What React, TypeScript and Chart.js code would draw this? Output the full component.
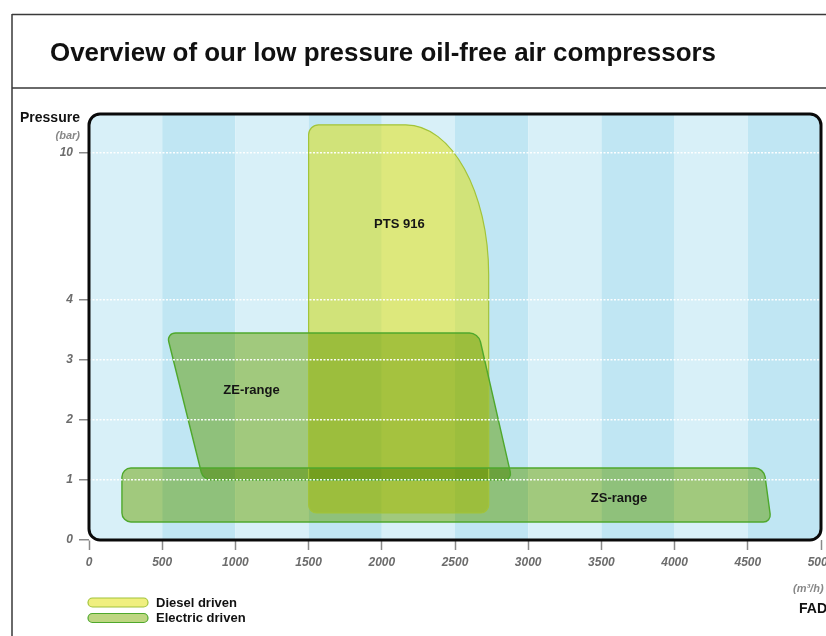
import React, { useEffect, useRef } from "react";
import { Chart, registerables } from "chart.js";
Chart.register(...registerables);

const W = 826;
const H = 636;
const FONT = '"Liberation Sans", Arial, Helvetica, sans-serif';

// ---- data ----
const title = "Overview of our low pressure oil-free air compressors";
const yTitle = "Pressure";
const yUnit = "(bar)";
const xUnit = "(m\u00b3/h)";
const xTitle = "FAD";
const xMin = 0;
const xMax = 5000;
const xStep = 500;
const yTicks = [0, 1, 2, 3, 4, 10];

const driveTypes = ["Diesel driven", "Electric driven"];
const driveFill = ["rgba(226,224,0,0.5)", "#bed681"];
const driveBlend = ["source-over", "multiply"];
const driveBorder = ["#a2c43a", "#4fa82c"];

const rangeNames = ["PTS 916", "ZE-range", "ZS-range"];
const rangeDrive = [0, 1, 1];
const ptsFlow = [1500, 1500, 2730, 2730];
const ptsPressure = [0.45, 11.15, 11.15, 0.45];
const zeFlow = [780, 530, 2660, 2890];
const zePressure = [1.0, 3.45, 3.45, 1.0];
const zsFlow = [225, 225, 4610, 4660];
const zsPressure = [0.3, 1.2, 1.2, 0.3];
const labelFlow = [2120, 1110, 3620];
const labelPressure = [7.1, 2.5, 0.7];

// pressure axis: linear up to 4 bar, compressed above
const toAxis = (p: number) => (p <= 4 ? p : 4 + ((p - 4) * 2.45) / 6);

// ---- styles ----
const cornerRadii: [number, number][][] = [
  [[8, 8], [10, 10], [83, 150], [8, 8]],
  [[8, 8], [9, 9], [9, 9], [8, 8]],
  [[9, 9], [9, 9], [9, 9], [8, 8]],
];

function roundedPoly(ctx: CanvasRenderingContext2D, pts: { x: number; y: number }[], radii: [number, number][]) {
  const n = pts.length;
  const K = 0.5523;
  ctx.beginPath();
  for (let i = 0; i < n; i++) {
    const v = pts[i];
    const p = pts[(i - 1 + n) % n];
    const q = pts[(i + 1) % n];
    const [rIn, rOut] = radii[i];
    const dinx = p.x - v.x, diny = p.y - v.y, lin = Math.hypot(dinx, diny);
    const doutx = q.x - v.x, douty = q.y - v.y, lout = Math.hypot(doutx, douty);
    const a = { x: v.x + (dinx / lin) * rIn, y: v.y + (diny / lin) * rIn };
    const b = { x: v.x + (doutx / lout) * rOut, y: v.y + (douty / lout) * rOut };
    if (i === 0) ctx.moveTo(a.x, a.y);
    else ctx.lineTo(a.x, a.y);
    ctx.bezierCurveTo(
      a.x + (v.x - a.x) * K, a.y + (v.y - a.y) * K,
      b.x + (v.x - b.x) * K, b.y + (v.y - b.y) * K,
      b.x, b.y
    );
  }
  ctx.closePath();
}

const FRAME_R = 11;

const scenePlugin = {
  id: "scene",
  beforeDraw(chart: any) {
    const ctx: CanvasRenderingContext2D = chart.ctx;
    const area = chart.chartArea;
    const xs = chart.scales.x;
    ctx.save();
    ctx.fillStyle = "#ffffff";
    ctx.fillRect(0, 0, W, H);

    // page frame
    ctx.strokeStyle = "#3a3a3a";
    ctx.lineWidth = 1.5;
    ctx.beginPath();
    ctx.moveTo(12, 14.5);
    ctx.lineTo(W, 14.5);
    ctx.moveTo(12, 88);
    ctx.lineTo(W, 88);
    ctx.moveTo(12, 14);
    ctx.lineTo(12, H);
    ctx.stroke();

    // title
    ctx.fillStyle = "#111";
    ctx.font = `bold 25px ${FONT}`;
    ctx.textAlign = "left";
    ctx.textBaseline = "alphabetic";
    const tw = ctx.measureText(title).width;
    ctx.save();
    ctx.translate(50, 61);
    ctx.scale(666 / tw, 1);
    ctx.fillText(title, 0, 0);
    ctx.restore();

    // axis titles
    ctx.font = `bold 14px ${FONT}`;
    ctx.fillStyle = "#111";
    ctx.fillText(yTitle, 20, 122);
    ctx.font = `italic bold 11px ${FONT}`;
    ctx.fillStyle = "#888";
    ctx.textAlign = "right";
    ctx.fillText(yUnit, 80, 139);
    ctx.textAlign = "left";
    ctx.font = `italic bold 11px ${FONT}`;
    ctx.fillText(xUnit, 793, 592);
    ctx.font = `bold 14px ${FONT}`;
    ctx.fillStyle = "#111";
    ctx.fillText(xTitle, 799, 613);

    // legend
    driveTypes.forEach((name, i) => {
      const y = 598 + i * 15.5;
      ctx.beginPath();
      ctx.roundRect(88, y, 60, 9, 4.5);
      ctx.fillStyle = driveFill[i];
      ctx.fill();
      ctx.lineWidth = 1.2;
      ctx.strokeStyle = driveBorder[i];
      ctx.stroke();
      ctx.fillStyle = "#111";
      ctx.font = `bold 13px ${FONT}`;
      ctx.textBaseline = "middle";
      ctx.fillText(name, 156, y + 5);
    });

    // column bands
    ctx.save();
    ctx.beginPath();
    ctx.roundRect(area.left, area.top, area.right - area.left, area.bottom - area.top, FRAME_R);
    ctx.clip();
    for (let v = xMin, k = 0; v < xMax; v += xStep, k++) {
      const x0 = xs.getPixelForValue(v);
      const x1 = xs.getPixelForValue(v + xStep);
      ctx.fillStyle = k % 2 === 0 ? "#d8f0f8" : "#c0e6f3";
      ctx.fillRect(x0, area.top, x1 - x0, area.bottom - area.top);
    }
    ctx.restore();
    ctx.restore();
  },
  beforeDatasetsDraw(chart: any) {
    const ctx: CanvasRenderingContext2D = chart.ctx;
    const area = chart.chartArea;
    ctx.save();
    ctx.beginPath();
    ctx.rect(area.left, area.top, area.right - area.left, area.bottom - area.top);
    ctx.clip();
    const shapes = chart.data.datasets.map((ds: any, i: number) => {
      const meta = chart.getDatasetMeta(i);
      return meta.data.map((el: any) => ({ x: el.x, y: el.y }));
    });
    // diesel (normal blend) first, electric (multiply) after
    [0, 1].forEach((d) => {
      shapes.forEach((pts: any, i: number) => {
        if (rangeDrive[i] !== d) return;
        ctx.globalCompositeOperation = driveBlend[d] as GlobalCompositeOperation;
        roundedPoly(ctx, pts, cornerRadii[i]);
        ctx.fillStyle = driveFill[d];
        ctx.fill();
      });
    });
    ctx.globalCompositeOperation = "source-over";
    shapes.forEach((pts: any, i: number) => {
      roundedPoly(ctx, pts, cornerRadii[i]);
      ctx.strokeStyle = driveBorder[rangeDrive[i]];
      ctx.lineWidth = rangeDrive[i] === 0 ? 1.2 : 1.4;
      ctx.stroke();
    });
    ctx.restore();
  },
  afterDraw(chart: any) {
    const ctx: CanvasRenderingContext2D = chart.ctx;
    const area = chart.chartArea;
    const xs = chart.scales.x;
    const ys = chart.scales.y;
    ctx.save();
    // range labels
    ctx.fillStyle = "#151515";
    ctx.font = `bold 13px ${FONT}`;
    ctx.textAlign = "center";
    ctx.textBaseline = "middle";
    rangeNames.forEach((name, i) => {
      ctx.fillText(name, xs.getPixelForValue(labelFlow[i]), ys.getPixelForValue(toAxis(labelPressure[i])));
    });
    // plot frame
    ctx.beginPath();
    ctx.roundRect(area.left, area.top, area.right - area.left, area.bottom - area.top, FRAME_R);
    ctx.lineWidth = 3;
    ctx.strokeStyle = "#0a0a0a";
    ctx.stroke();
    ctx.restore();
  },
};

export default function App() {
  const ref = useRef<HTMLCanvasElement | null>(null);
  useEffect(() => {
    if (!ref.current) return;
    const flows = [ptsFlow, zeFlow, zsFlow];
    const pressures = [ptsPressure, zePressure, zsPressure];
    const chart = new Chart(ref.current, {
      type: "scatter",
      data: {
        datasets: rangeNames.map((name, i) => ({
          label: name,
          data: flows[i].map((x, j) => ({ x, y: toAxis(pressures[i][j]) })),
          pointRadius: 0,
          pointHoverRadius: 0,
          showLine: false,
          backgroundColor: driveFill[rangeDrive[i]],
          borderColor: driveBorder[rangeDrive[i]],
        })),
      },
      options: {
        responsive: false,
        animation: false,
        devicePixelRatio: 1,
        events: [],
        layout: { padding: { top: 114, right: 5, left: 0, bottom: 0 } },
        plugins: { legend: { display: false }, tooltip: { enabled: false } },
        scales: {
          x: {
            type: "linear",
            min: xMin,
            max: xMax,
            border: { display: false },
            grid: {
              drawOnChartArea: false,
              drawTicks: true,
              tickLength: 10,
              tickColor: "#8a8a8a",
              tickWidth: 1.5,
            },
            ticks: {
              stepSize: xStep,
              autoSkip: false,
              maxRotation: 0,
              padding: 5,
              color: "#6c6c6c",
              font: { family: FONT, size: 12, style: "italic", weight: "bold" },
              callback: (v: any) => String(v),
            },
            afterFit: (s: any) => {
              s.height = 96;
              s.paddingLeft = 0;
              s.paddingRight = 0;
            },
          },
          y: {
            type: "linear",
            min: 0,
            max: 7.1,
            border: { display: false, dash: [2, 1.5] },
            grid: {
              z: 1,
              color: "rgba(255,255,255,0.95)",
              lineWidth: 1.5,
              drawTicks: true,
              tickLength: 10,
              tickColor: "#8a8a8a",
              tickWidth: 1.5,
              tickBorderDash: [],
            },
            ticks: {
              padding: 6,
              color: "#6c6c6c",
              font: { family: FONT, size: 12, style: "italic", weight: "bold" },
              callback: (_v: any, i: number) => String(yTicks[i]),
            },
            afterBuildTicks: (s: any) => {
              s.ticks = yTicks.map((v) => ({ value: toAxis(v) }));
            },
            afterFit: (s: any) => {
              s.width = 89;
              s.paddingTop = 0;
              s.paddingBottom = 0;
            },
          },
        },
      },
      plugins: [scenePlugin],
    } as any);
    return () => chart.destroy();
  }, []);
  return (
    <div style={{ position: "absolute", left: 0, top: 0, width: W, height: H }}>
      <canvas ref={ref} width={W} height={H} style={{ display: "block" }} />
    </div>
  );
}
